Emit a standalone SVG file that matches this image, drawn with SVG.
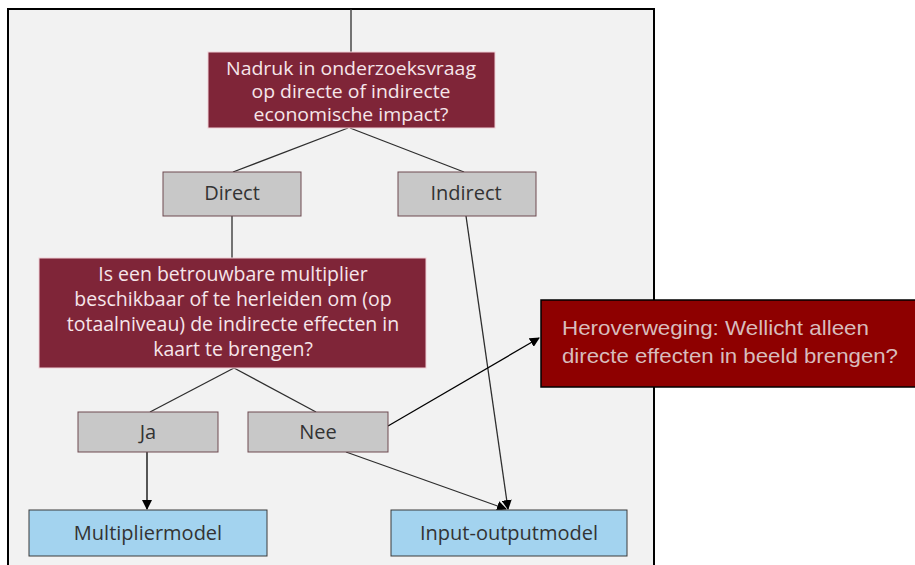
<svg xmlns="http://www.w3.org/2000/svg" width="915" height="565" viewBox="0 0 915 565">
<defs>
<style>
.q{fill:#7f2538;stroke:#f0d0d6;stroke-width:1}
.qt{font-family:"Open Sans",sans-serif;font-size:19.5px;fill:#f6e6ea;text-anchor:middle}
.qs{font-size:18.5px}
.g{fill:#c8c8c8;stroke:#6e4a50;stroke-width:1}
.gt{font-family:"Open Sans",sans-serif;font-size:20px;fill:#333;text-anchor:middle}
.b{fill:#a3d3ef;stroke:#3a3a3a;stroke-width:1}
.ln{stroke:#2e2e2e;stroke-width:1.3;fill:none}
.ar{stroke:#000;stroke-width:1.3;fill:none}
.ht{font-family:"Liberation Sans",sans-serif;font-size:21px;fill:#d8bcbc}
</style>
<marker id="ah" viewBox="0 0 10 10" refX="9" refY="5" markerWidth="10" markerHeight="10" markerUnits="userSpaceOnUse" orient="auto">
<path d="M0,0 L10,5 L0,10 z" fill="#000"/>
</marker>
</defs>
<rect x="0" y="0" width="915" height="565" fill="#fff"/>
<g id="frame">
<rect x="8" y="9" width="646" height="570" fill="#f2f2f2" stroke="#000" stroke-width="2"/>
</g>
<g id="connectors">
<line class="ln" x1="351" y1="9" x2="351" y2="52"/>
<line class="ln" x1="348" y1="128" x2="233" y2="172"/>
<line class="ln" x1="350" y1="128" x2="464" y2="172"/>
<line class="ln" x1="232" y1="216" x2="232" y2="258"/>
<line class="ln" x1="234" y1="368" x2="150" y2="412"/>
<line class="ln" x1="234" y1="368" x2="316" y2="412"/>
<line class="ar" x1="147" y1="452" x2="147" y2="509" marker-end="url(#ah)"/>
<line class="ln" x1="466" y1="216" x2="508" y2="509" marker-end="url(#ah)"/>
<line class="ln" x1="346" y1="452" x2="506" y2="509" marker-end="url(#ah)"/>
<line class="ar" x1="388" y1="426" x2="539" y2="338" marker-end="url(#ah)"/>
</g>
<g id="n-nadruk">
<rect class="q" x="208" y="52" width="287" height="76"/>
<text class="qt qs" x="351" y="75" textLength="250" lengthAdjust="spacingAndGlyphs">Nadruk in onderzoeksvraag</text>
<text class="qt qs" x="351" y="98" textLength="199" lengthAdjust="spacingAndGlyphs">op directe of indirecte</text>
<text class="qt qs" x="351" y="121" textLength="195" lengthAdjust="spacingAndGlyphs">economische impact?</text>
</g>
<g id="n-direct">
<rect class="g" x="163" y="172" width="138" height="44"/>
<text class="gt" x="232" y="200">Direct</text>
</g>
<g id="n-indirect">
<rect class="g" x="398" y="172" width="138" height="44"/>
<text class="gt" x="466" y="200">Indirect</text>
</g>
<g id="n-multiplier-vraag">
<rect class="q" x="39" y="258" width="387" height="110"/>
<text class="qt" x="233" y="281">Is een betrouwbare multiplier</text>
<text class="qt" x="233" y="306">beschikbaar of te herleiden om (op</text>
<text class="qt" x="233" y="331">totaalniveau) de indirecte effecten in</text>
<text class="qt" x="233" y="356">kaart te brengen?</text>
</g>
<g id="n-ja">
<rect class="g" x="78" y="412" width="140" height="40"/>
<text class="gt" x="148" y="439">Ja</text>
</g>
<g id="n-nee">
<rect class="g" x="248" y="412" width="140" height="40"/>
<text class="gt" x="318" y="439">Nee</text>
</g>
<g id="n-multipliermodel">
<rect class="b" x="29" y="510" width="238" height="46"/>
<text class="gt" x="148" y="540">Multipliermodel</text>
</g>
<g id="n-io">
<rect class="b" x="391" y="510" width="236" height="46"/>
<text class="gt" x="509" y="540">Input-outputmodel</text>
</g>
<g id="n-heroverweging">
<rect x="541" y="300" width="380" height="87" fill="#8e0000" stroke="#000" stroke-width="1.5"/>
<text class="ht" x="562" y="335" textLength="307" lengthAdjust="spacingAndGlyphs">Heroverweging: Wellicht alleen</text>
<text class="ht" x="562" y="363" textLength="336" lengthAdjust="spacingAndGlyphs">directe effecten in beeld brengen?</text>
</g>
</svg>
